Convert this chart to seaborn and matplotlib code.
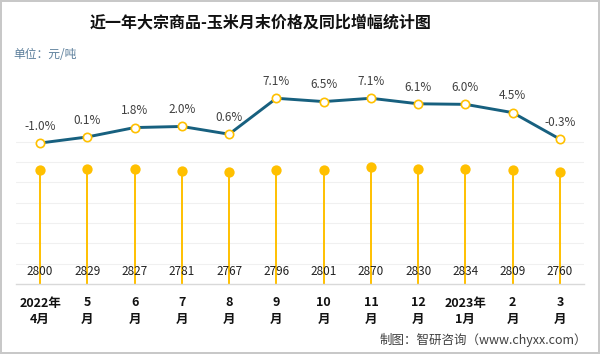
import matplotlib
matplotlib.use("Agg")
import matplotlib.pyplot as plt
import pandas as pd
import seaborn as sns

# ── Data ────────────────────────────────────────────────────────────────────
months = ["2022年\n4月", "5\n月", "6\n月", "7\n月", "8\n月", "9\n月",
          "10\n月", "11\n月", "12\n月", "2023年\n1月", "2\n月", "3\n月"]
yoy_pct = [-1.0, 0.1, 1.8, 2.0, 0.6, 7.1, 6.5, 7.1, 6.1, 6.0, 4.5, -0.3]
prices = [2800, 2829, 2827, 2781, 2767, 2796, 2801, 2870, 2830, 2834, 2809, 2760]

df = pd.DataFrame({"x": range(len(months)), "yoy": yoy_pct, "price": prices})

LINE_BLUE = "#17607f"
GOLD = "#ffc000"

sns.set_theme(style="white")
plt.rcParams["font.family"] = ["Noto Sans CJK SC", "DejaVu Sans"]

fig = plt.figure(figsize=(6.0, 3.54), dpi=100)
fig.patch.set_facecolor("white")
fig.patch.set_edgecolor("#c8c8c8")
fig.patch.set_linewidth(1.5)

W, H = 600, 354
ax = fig.add_axes([16.4 / W, 70 / H, (583.6 - 16.4) / W, 199 / H])

# ── Price lollipops (primary axis) ──────────────────────────────────────────
ax.vlines(df["x"], 0, df["price"], color=GOLD, linewidth=1.4, zorder=2)
sns.scatterplot(data=df, x="x", y="price", ax=ax, color=GOLD, s=55,
                edgecolor=GOLD, linewidth=0, zorder=3, legend=False)
ax.set_ylim(0, 4900)
ax.set_xlim(-0.5, len(months) - 0.5)
ax.set_yticks(range(500, 4000, 500))
ax.yaxis.grid(True, color="#f0f0f0", linewidth=0.8)
ax.set_axisbelow(True)
ax.set_xticks(df["x"])
ax.set_xticklabels(months, fontsize=9, fontweight="bold", color="#111111",
                   linespacing=1.35)
ax.set_xlabel("")
ax.set_ylabel("")
for side in ["top", "left", "right"]:
    ax.spines[side].set_visible(False)
ax.spines["bottom"].set_color("#d9d9d9")
ax.spines["bottom"].set_linewidth(1.0)

for i, p in enumerate(prices):
    ax.annotate(f"{p}", xy=(i, 0), xytext=(0, 9), textcoords="offset points",
                ha="center", va="center", fontsize=8.5, color="#222222", zorder=4)

# ── YoY line (secondary axis) ───────────────────────────────────────────────
ax2 = ax.twinx()
sns.lineplot(data=df, x="x", y="yoy", ax=ax2, color=LINE_BLUE, linewidth=2.1,
             marker="o", markersize=6, markerfacecolor="white",
             markeredgecolor=GOLD, markeredgewidth=1.2, zorder=5)
ax2.set_ylim(-26.5, 9.5)
ax2.set_xlim(-0.5, len(months) - 0.5)
ax2.axis("off")
for i, v in enumerate(yoy_pct):
    ax2.annotate(f"{v:.1f}%", xy=(i, v), xytext=(0, 12), textcoords="offset points",
                 ha="center", va="center", fontsize=8.5, color="#404040")

# no tick marks anywhere, hidden price tick labels
ax.tick_params(axis="y", which="both", left=False, right=False,
               labelleft=False, labelright=False, length=0)
ax.tick_params(axis="x", length=0, pad=9)

# ── Titles and notes ────────────────────────────────────────────────────────
fig.text(261 / W, 1 - 22 / H, "近一年大宗商品-玉米月末价格及同比增幅统计图",
         ha="center", va="center", fontsize=11.5, fontweight="bold", color="#111111")
fig.text(13 / W, 1 - 55 / H, "单位：元/吨", ha="left", va="center",
         fontsize=8.5, color="#5a7d9a")

fig.text(587 / W, 1 - 340 / H, "制图：智研咨询（www.chyxx.com）", ha="right",
         va="center", fontsize=9, color="#404040")

fig.savefig("out.png", dpi=100, facecolor=fig.get_facecolor(),
            edgecolor=fig.get_edgecolor())
plt.close(fig)
